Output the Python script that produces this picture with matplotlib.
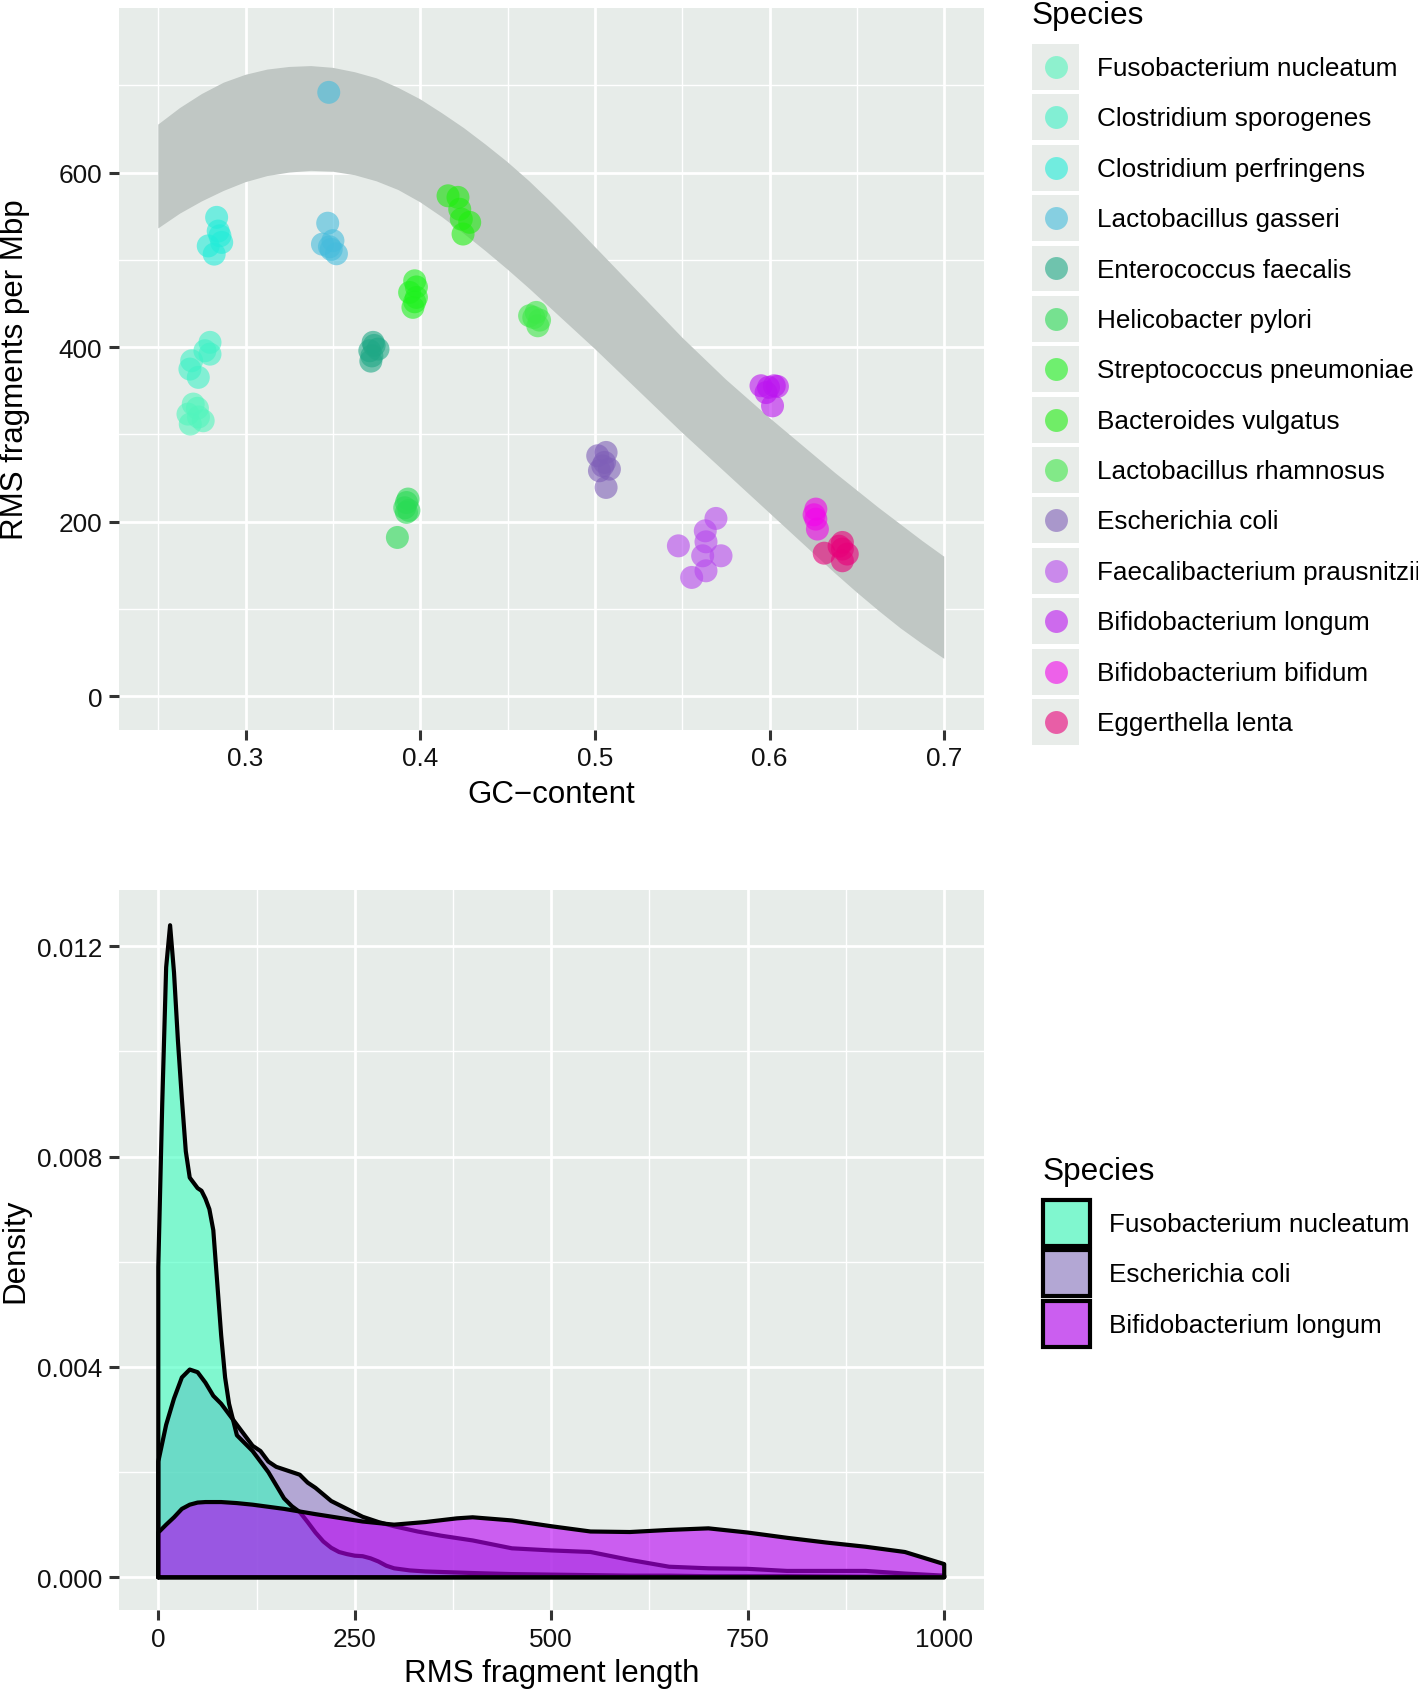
import matplotlib
matplotlib.use('Agg')
import matplotlib.pyplot as plt
from matplotlib.patches import Patch, Rectangle
from matplotlib.lines import Line2D
from matplotlib.colors import to_rgba
from matplotlib.ticker import FixedLocator
from matplotlib.legend_handler import HandlerBase
import numpy as np

plt.rcParams['font.family'] = ['Liberation Sans', 'DejaVu Sans']

# ---------------- data: top panel ----------------
species = ['Fusobacterium nucleatum', 'Clostridium sporogenes', 'Clostridium perfringens',
           'Lactobacillus gasseri', 'Enterococcus faecalis', 'Helicobacter pylori',
           'Streptococcus pneumoniae', 'Bacteroides vulgatus', 'Lactobacillus rhamnosus',
           'Escherichia coli', 'Faecalibacterium prausnitzii', 'Bifidobacterium longum',
           'Bifidobacterium bifidum', 'Eggerthella lenta']
point_colors = ['#52F5BD', '#3FF2C6', '#22EDD9', '#45BCDC', '#1FA886', '#2ADB55',
                '#1EF21E', '#20EE10', '#3EE848', '#7F5FB8', '#B748EE', '#BC14F0',
                '#F205EA', '#E8007A']

fuso_gc = [0.270, 0.267, 0.2757, 0.2683, 0.2724, 0.273]
fuso_rms = [334.8, 323.3, 315.7, 311.9, 330, 320]
cspor_gc = [0.2796, 0.2767, 0.2691, 0.2681, 0.2729, 0.2796]
cspor_rms = [405.5, 395.9, 384.4, 374.9, 365.4, 392]
cperf_gc = [0.2834, 0.2843, 0.2853, 0.2786, 0.282, 0.2863]
cperf_rms = [548.7, 533, 527.6, 516, 506.6, 520]
lgas_gc = [0.3476, 0.347, 0.344, 0.349, 0.352, 0.350, 0.348]
lgas_rms = [691.9, 542, 518, 512, 507, 522, 515]
efae_gc = [0.373, 0.3711, 0.3717, 0.3758, 0.3736, 0.3723]
efae_rms = [405.5, 395.9, 384, 397.8, 402, 390]
hpyl_gc = [0.3869, 0.3921, 0.3921, 0.3911, 0.393, 0.3935]
hpyl_rms = [182, 222, 210.7, 216, 226, 213]
spne_gc = [0.3968, 0.3939, 0.3978, 0.3958, 0.3968, 0.3978]
spne_rms = [476, 462.7, 457, 445.6, 452, 469]
bvul_gc = [0.4159, 0.4216, 0.4226, 0.4235, 0.4283, 0.4245]
bvul_rms = [573.4, 571.6, 558, 546.7, 543, 529.6]
lrha_gc = [0.4664, 0.4626, 0.4673, 0.4683, 0.465]
lrha_rms = [439.8, 436, 424.5, 431, 434]
ecol_gc = [0.5064, 0.5016, 0.5045, 0.5083, 0.5026, 0.5064, 0.5055]
ecol_rms = [279.4, 275.6, 264, 260.3, 258.4, 239.3, 268]
fpra_gc = [0.5693, 0.5632, 0.5636, 0.5722, 0.5617, 0.5636, 0.5478, 0.5554]
fpra_rms = [203.8, 189.6, 177, 161, 161, 143.8, 172.4, 136.2]
blon_gc = [0.5951, 0.6027, 0.598, 0.6017, 0.5994, 0.6045]
blon_rms = [355.8, 355.8, 348, 332.8, 354, 355]
bbif_gc = [0.6265, 0.6265, 0.6274, 0.6255]
bbif_rms = [214.5, 203, 191.6, 208]
elen_gc = [0.6417, 0.6417, 0.6313, 0.6417, 0.6445, 0.6398]
elen_rms = [176.3, 168.7, 164, 155.3, 163, 172]

gc_lists = [fuso_gc, cspor_gc, cperf_gc, lgas_gc, efae_gc, hpyl_gc, spne_gc, bvul_gc,
            lrha_gc, ecol_gc, fpra_gc, blon_gc, bbif_gc, elen_gc]
rms_lists = [fuso_rms, cspor_rms, cperf_rms, lgas_rms, efae_rms, hpyl_rms, spne_rms, bvul_rms,
             lrha_rms, ecol_rms, fpra_rms, blon_rms, bbif_rms, elen_rms]

# smoother confidence band
band_gc = [0.25, 0.2625, 0.275, 0.2875, 0.30, 0.3125, 0.325, 0.3375, 0.35, 0.3625,
           0.375, 0.3875, 0.40, 0.4125, 0.425, 0.4375, 0.45, 0.4625, 0.475, 0.4875,
           0.50, 0.5125, 0.525, 0.5375, 0.55, 0.5625, 0.575, 0.5875, 0.60, 0.6125,
           0.625, 0.6375, 0.65, 0.6625, 0.675, 0.6875, 0.70]
band_upper = [655, 674, 690, 703, 712, 718, 721, 722, 720, 715,
              708, 697, 684, 668, 651, 632, 612, 590, 566, 541,
              515, 489, 463, 437, 411, 387, 363, 341, 319, 298,
              277, 256, 236, 216, 197, 178, 160]
band_lower = [536, 553, 567, 579, 589, 596, 600, 602, 601, 597,
              590, 580, 566, 549, 530, 510, 489, 467, 444, 421,
              398, 374, 350, 326, 302, 279, 256, 233, 210, 187,
              164, 141, 119, 98, 78, 60, 43]

top_xticks = [0.3, 0.4, 0.5, 0.6, 0.7]
top_xminor = [0.25, 0.35, 0.45, 0.55, 0.65]
top_yticks = [0, 200, 400, 600]
top_yminor = [100, 300, 500, 700]

# ---------------- data: bottom panel ----------------
dens_species = ['Fusobacterium nucleatum', 'Escherichia coli', 'Bifidobacterium longum']
dens_colors = ['#3BFFBF', '#917AC6', '#B900F5']

fuso_len = [0, 5, 10, 15, 20, 25, 30, 35, 40, 45, 50, 55, 60, 65, 70, 75, 80, 85, 90, 95,
            100, 110, 120, 130, 140, 150, 160, 170, 180, 190, 200, 210, 220, 230, 240, 250,
            260, 270, 280, 290, 300, 320, 340, 360, 380, 400, 450, 500, 550, 600, 650, 700,
            800, 900, 1000]
fuso_dens = [0.0059, 0.0090, 0.0116, 0.0124, 0.0115, 0.0102, 0.0091, 0.0081, 0.0076, 0.0075,
             0.0074, 0.00735, 0.0072, 0.0070, 0.0066, 0.0056, 0.0046, 0.0038, 0.0033, 0.0030,
             0.0027, 0.00255, 0.0024, 0.0022, 0.0020, 0.00175, 0.00150, 0.00135, 0.00124,
             0.00105, 0.00085, 0.00068, 0.00056, 0.00048, 0.00044, 0.00041, 0.00040, 0.00036,
             0.00030, 0.00022, 0.00017, 0.00013, 0.00011, 0.00010, 0.00009, 0.00008, 0.00006,
             0.00005, 0.00004, 0.00003, 0.00003, 0.00002, 0.00002, 0.00001, 0.00001]
ecol_len = [0, 10, 20, 30, 40, 50, 60, 70, 80, 90, 100, 110, 120, 130, 140, 150, 160, 170,
            180, 190, 200, 220, 240, 260, 280, 300, 330, 360, 400, 450, 500, 550, 600, 650,
            700, 750, 800, 850, 900, 950, 1000]
ecol_dens = [0.0022, 0.0029, 0.0034, 0.0038, 0.00395, 0.0039, 0.0037, 0.00345, 0.0033,
             0.0031, 0.0029, 0.0027, 0.0025, 0.0024, 0.0022, 0.0021, 0.00205, 0.0020,
             0.00195, 0.0018, 0.0017, 0.00145, 0.0013, 0.00115, 0.00105, 0.00097, 0.00087,
             0.00079, 0.0007, 0.00055, 0.00051, 0.00048, 0.00033, 0.0002, 0.00017, 0.00016,
             0.00012, 0.00012, 0.00012, 0.00007, 0.00003]
blon_len = [0, 10, 20, 30, 40, 50, 60, 70, 80, 100, 120, 140, 160, 180, 200, 230, 260, 300,
            340, 380, 400, 450, 500, 550, 600, 650, 700, 750, 800, 850, 900, 950, 1000]
blon_dens = [0.00085, 0.0010, 0.00114, 0.0013, 0.00138, 0.00142, 0.00143, 0.00143, 0.00143,
             0.00141, 0.00138, 0.00134, 0.0013, 0.00125, 0.0012, 0.00113, 0.00106, 0.0010,
             0.00105, 0.00112, 0.00114, 0.00108, 0.00097, 0.00087, 0.00086, 0.0009, 0.00093,
             0.00085, 0.00075, 0.00066, 0.00058, 0.00048, 0.00025]

bot_xticks = [0, 250, 500, 750, 1000]
bot_xminor = [125, 375, 625, 875]
bot_yticks = [0.000, 0.004, 0.008, 0.012]
bot_yminor = [0.002, 0.006, 0.010]

# ---------------- styling ----------------
BG = '#E7ECE9'
KEYBG = '#E8ECE9'
W, H = 1418, 1690
fig = plt.figure(figsize=(W / 100, H / 100), dpi=100)
L, R = 119, 983.5
ax1 = fig.add_axes([L / W, 1 - 730.5 / H, (R - L) / W, (730.5 - 8.6) / H])
ax2 = fig.add_axes([L / W, 1 - 1611 / H, (R - L) / W, (1611 - 891) / H])


def style(ax, xt, xm, yt, ym):
    ax.set_facecolor(BG)
    for s in ax.spines.values():
        s.set_visible(False)
    ax.xaxis.set_major_locator(FixedLocator(xt))
    ax.xaxis.set_minor_locator(FixedLocator(xm))
    ax.yaxis.set_major_locator(FixedLocator(yt))
    ax.yaxis.set_minor_locator(FixedLocator(ym))
    ax.grid(True, which='major', color='white', lw=2.0)
    ax.grid(True, which='minor', color='white', lw=1.0)
    ax.set_axisbelow(True)
    ax.tick_params(which='major', length=7, width=2.2, color='#333333',
                   labelsize=18.8, labelcolor='#111111', pad=5)
    ax.tick_params(which='minor', length=0)


# top panel
style(ax1, top_xticks, top_xminor, top_yticks, top_yminor)
ax1.fill_between(band_gc, band_lower, band_upper, facecolor='#C0C7C4', lw=0, zorder=1)
for gc, rms, c in zip(gc_lists, rms_lists, point_colors):
    ax1.scatter(gc, rms, s=274, color=c, alpha=0.6, edgecolors='none', zorder=2)
ax1.set_xlim(0.2275, 0.7225)
ax1.set_ylim(-38, 789)
ax1.set_xticklabels([f'{v:.1f}' for v in top_xticks])
ax1.set_yticklabels([str(v) for v in top_yticks])
ax1.set_xlabel('GC\u2212content', fontsize=22.5, va='baseline')
ax1.xaxis.set_label_coords(0.5, -0.1004)
ax1.set_ylabel('RMS fragments per Mbp', fontsize=22.5, va='baseline')
ax1.yaxis.set_label_coords(-0.111, 0.5)

# bottom panel
style(ax2, bot_xticks, bot_xminor, bot_yticks, bot_yminor)
ALPHA = 0.6
LW = 3.0
lens = [fuso_len, ecol_len, blon_len]
dens = [fuso_dens, ecol_dens, blon_dens]
fill_z = [1.2, 1.1, 1.4]
line_z = [1.35, 1.3, 1.5]
for x, y, c, fz, lz in zip(lens, dens, dens_colors, fill_z, line_z):
    x = np.asarray(x, float)
    y = np.asarray(y, float)
    ax2.fill_between(x, 0, y, facecolor=to_rgba(c, ALPHA), lw=0, zorder=fz)
    ox = np.concatenate([[x[0]], x, [x[-1], x[0]]])
    oy = np.concatenate([[0], y, [0, 0]])
    ax2.plot(ox, oy, color='black', lw=LW, zorder=lz, solid_joinstyle='round',
             solid_capstyle='round')
ax2.set_xlim(-50, 1050)
ax2.set_ylim(-0.000623, 0.01307)
ax2.set_xticklabels([str(v) for v in bot_xticks])
ax2.set_yticklabels([f'{v:.3f}' for v in bot_yticks])
ax2.set_xlabel('RMS fragment length', fontsize=22.5, va='baseline')
ax2.xaxis.set_label_coords(0.5, -0.0986)
ax2.set_ylabel('Density', fontsize=22.5, va='baseline')
ax2.yaxis.set_label_coords(-0.111, 0.5)


# legend key handlers (grey key background like ggplot)
class PointKey(HandlerBase):
    def create_artists(self, legend, orig_handle, xdescent, ydescent, width, height,
                       fontsize, trans):
        bg = Rectangle((-xdescent, -ydescent), width, height, facecolor=KEYBG,
                       edgecolor='none', transform=trans)
        m = Line2D([-xdescent + width / 2], [-ydescent + height / 2], ls='none',
                   marker='o', ms=orig_handle.get_markersize(),
                   markerfacecolor=orig_handle.get_markerfacecolor(),
                   markeredgecolor='none', alpha=orig_handle.get_alpha(), transform=trans)
        return [bg, m]


class FillKey(HandlerBase):
    def create_artists(self, legend, orig_handle, xdescent, ydescent, width, height,
                       fontsize, trans):
        bg = Rectangle((-xdescent, -ydescent), width, height, facecolor=KEYBG,
                       edgecolor='none', transform=trans)
        fg = Rectangle((-xdescent, -ydescent), width, height,
                       facecolor=orig_handle.get_facecolor(), edgecolor='black',
                       lw=LW, transform=trans)
        return [bg, fg]


leg_kw = dict(bbox_transform=fig.transFigure, frameon=False, fontsize=18.8,
              handlelength=1.8, handleheight=2.33, labelspacing=0.17,
              borderpad=0, borderaxespad=0, loc='upper left')

h1 = [Line2D([], [], ls='none', marker='o', ms=16.5, markerfacecolor=c,
             markeredgecolor='none', alpha=0.6) for c in point_colors]
fig.legend(h1, species, bbox_to_anchor=(1032 / W, 1 - 45 / H), handletextpad=0.7,
           handler_map={Line2D: PointKey()}, **leg_kw)
fig.text(1032 / W, 1 - 24 / H, 'Species', fontsize=22.7, ha='left', va='baseline')

h2 = [Patch(facecolor=to_rgba(c, ALPHA)) for c in dens_colors]
fig.legend(h2, dens_species, bbox_to_anchor=(1043 / W, 1 - 1201 / H), handletextpad=0.72,
           handler_map={Patch: FillKey()}, **leg_kw)
fig.text(1043 / W, 1 - 1180 / H, 'Species', fontsize=22.7, ha='left', va='baseline')

fig.savefig('out.png', dpi=100)
